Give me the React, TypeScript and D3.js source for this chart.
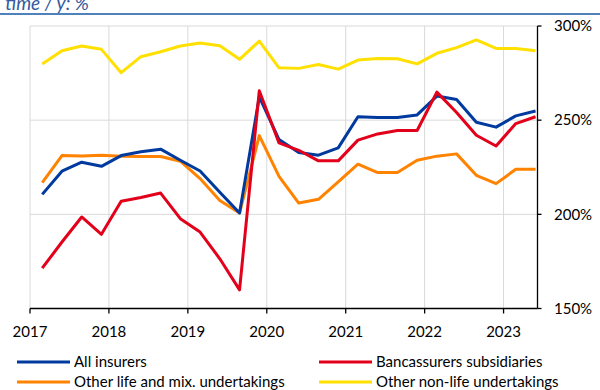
import React from "react";
import * as d3 from "d3";

const quarters = [
  "2017Q1","2017Q2","2017Q3","2017Q4","2018Q1","2018Q2","2018Q3","2018Q4",
  "2019Q1","2019Q2","2019Q3","2019Q4","2020Q1","2020Q2","2020Q3","2020Q4",
  "2021Q1","2021Q2","2021Q3","2021Q4","2022Q1","2022Q2","2022Q3","2022Q4",
  "2023Q1","2023Q2",
];

const allInsurers = [
  210.6, 222.9, 227.7, 225.5, 231.2, 233.2, 234.6, 228.7, 223.0, 211.7,
  200.7, 262.4, 239.7, 232.8, 231.4, 235.3, 251.8, 251.4, 251.4, 252.8,
  262.8, 261.0, 248.9, 246.3, 252.3, 254.9,
];
const bancassurers = [
  171.4, 185.3, 198.6, 189.4, 206.9, 208.9, 211.3, 197.7, 190.6, 176.4,
  159.9, 265.6, 237.9, 234.0, 228.4, 228.4, 239.4, 242.7, 244.5, 244.5,
  264.9, 254.1, 242.0, 236.3, 248.2, 251.8,
];
const otherLife = [
  216.8, 231.2, 231.0, 231.4, 230.9, 230.7, 230.7, 228.2, 219.0, 207.4,
  200.7, 241.8, 220.2, 206.0, 208.0, 217.2, 226.6, 222.2, 222.2, 228.7,
  230.9, 232.1, 220.7, 216.3, 223.9, 223.9,
];
const otherNonLife = [
  279.8, 286.9, 289.4, 287.6, 275.2, 283.7, 286.3, 289.4, 291.0, 289.5,
  282.3, 292.0, 277.8, 277.5, 279.6, 277.1, 281.9, 282.8, 282.6, 279.9,
  285.5, 288.5, 292.6, 288.1, 288.1, 286.9,
];

const yearTicks = [2017, 2018, 2019, 2020, 2021, 2022, 2023];
const yTicks = [150, 200, 250, 300];

const seriesNames = [
  "All insurers",
  "Bancassurers subsidiaries",
  "Other life and mix. undertakings",
  "Other non-life undertakings",
];
const seriesColors = ["#003a9e", "#e3001b", "#ff8300", "#ffe000"];
const seriesValues = [allInsurers, bancassurers, otherLife, otherNonLife];
const drawOrder = [3, 2, 0, 1];

const titleText = "time / y: %";

const FONT = "Lato, 'Open Sans', sans-serif";

function qToTime(q: string): number {
  const y = +q.slice(0, 4);
  const n = +q.slice(5);
  return y + (n - 1) * 0.25 + 0.155;
}

export default function App() {
  const W = 600;
  const H = 390;
  const left = 30;
  const right = 537.5;
  const top = 26;
  const bottom = 308.5;

  const x = d3.scaleLinear().domain([2017, 2023.43]).range([left, right]);
  const y = d3.scaleLinear().domain([150, 300]).range([bottom, top]);

  const line = d3
    .line<number>()
    .x((_, i) => x(qToTime(quarters[i])))
    .y((d) => y(d));

  const legendItems = [
    { i: 0, lx: 17, ly: 362 },
    { i: 1, lx: 319, ly: 362 },
    { i: 2, lx: 17, ly: 382 },
    { i: 3, lx: 319, ly: 382 },
  ];

  return (
    <div style={{ position: "absolute", left: 0, top: 0 }}>
      <svg width={W} height={H} style={{ display: "block", background: "#fff" }}>
        <text
          x={89}
          y={10}
          textAnchor="end"
          fontFamily={FONT}
          fontStyle="italic"
          fontSize={19}
          fill="#3559a0"
        >
          {titleText}
        </text>
        <line x1={0} x2={W} y1={14} y2={14} stroke="#4f81bd" strokeWidth={2} />

        {/* gridlines */}
        {yearTicks.map((t) => (
          <line
            key={"vg" + t}
            x1={x(t)}
            x2={x(t)}
            y1={top}
            y2={bottom}
            stroke="#d9d9d9"
            strokeWidth={1}
          />
        ))}
        {yTicks.filter((v) => v > 150).map((v) => (
          <line
            key={"hg" + v}
            x1={left}
            x2={right}
            y1={y(v)}
            y2={y(v)}
            stroke="#d9d9d9"
            strokeWidth={1}
          />
        ))}

        {/* series */}
        {drawOrder.map((i) => (
          <path
            key={"s" + i}
            d={line(seriesValues[i]) || ""}
            fill="none"
            stroke={seriesColors[i]}
            strokeWidth={3}
            strokeLinejoin="round"
          />
        ))}

        {/* x axis */}
        <line x1={left} x2={right} y1={bottom} y2={bottom} stroke="#000" strokeWidth={1.3} />
        {yearTicks.map((t) => (
          <g key={"xt" + t}>
            <line x1={x(t)} x2={x(t)} y1={bottom} y2={bottom + 5} stroke="#000" strokeWidth={1.3} />
            <text
              x={x(t)}
              y={bottom + 28}
              textAnchor="middle"
              fontFamily={FONT}
              fontSize={15}
              fill="#000"
            >
              {t}
            </text>
          </g>
        ))}

        {/* right y axis */}
        <line x1={right} x2={right} y1={top} y2={bottom} stroke="#000" strokeWidth={1.3} />
        {yTicks.map((v) => (
          <g key={"yt" + v}>
            <line x1={right} x2={right + 4} y1={y(v)} y2={y(v)} stroke="#000" strokeWidth={1.3} />
            <text
              x={554}
              y={y(v)}
              dy="0.35em"
              fontFamily={FONT}
              fontSize={15}
              fill="#000"
            >
              {v}%
            </text>
          </g>
        ))}

        {/* legend */}
        {legendItems.map((it) => (
          <g key={"lg" + it.i}>
            <line
              x1={it.lx}
              x2={it.lx + 53}
              y1={it.ly}
              y2={it.ly}
              stroke={seriesColors[it.i]}
              strokeWidth={3}
            />
            <text
              x={it.lx + 57}
              y={it.ly}
              dy="0.35em"
              fontFamily={FONT}
              fontSize={15}
              fill="#000"
            >
              {seriesNames[it.i]}
            </text>
          </g>
        ))}
      </svg>
    </div>
  );
}
